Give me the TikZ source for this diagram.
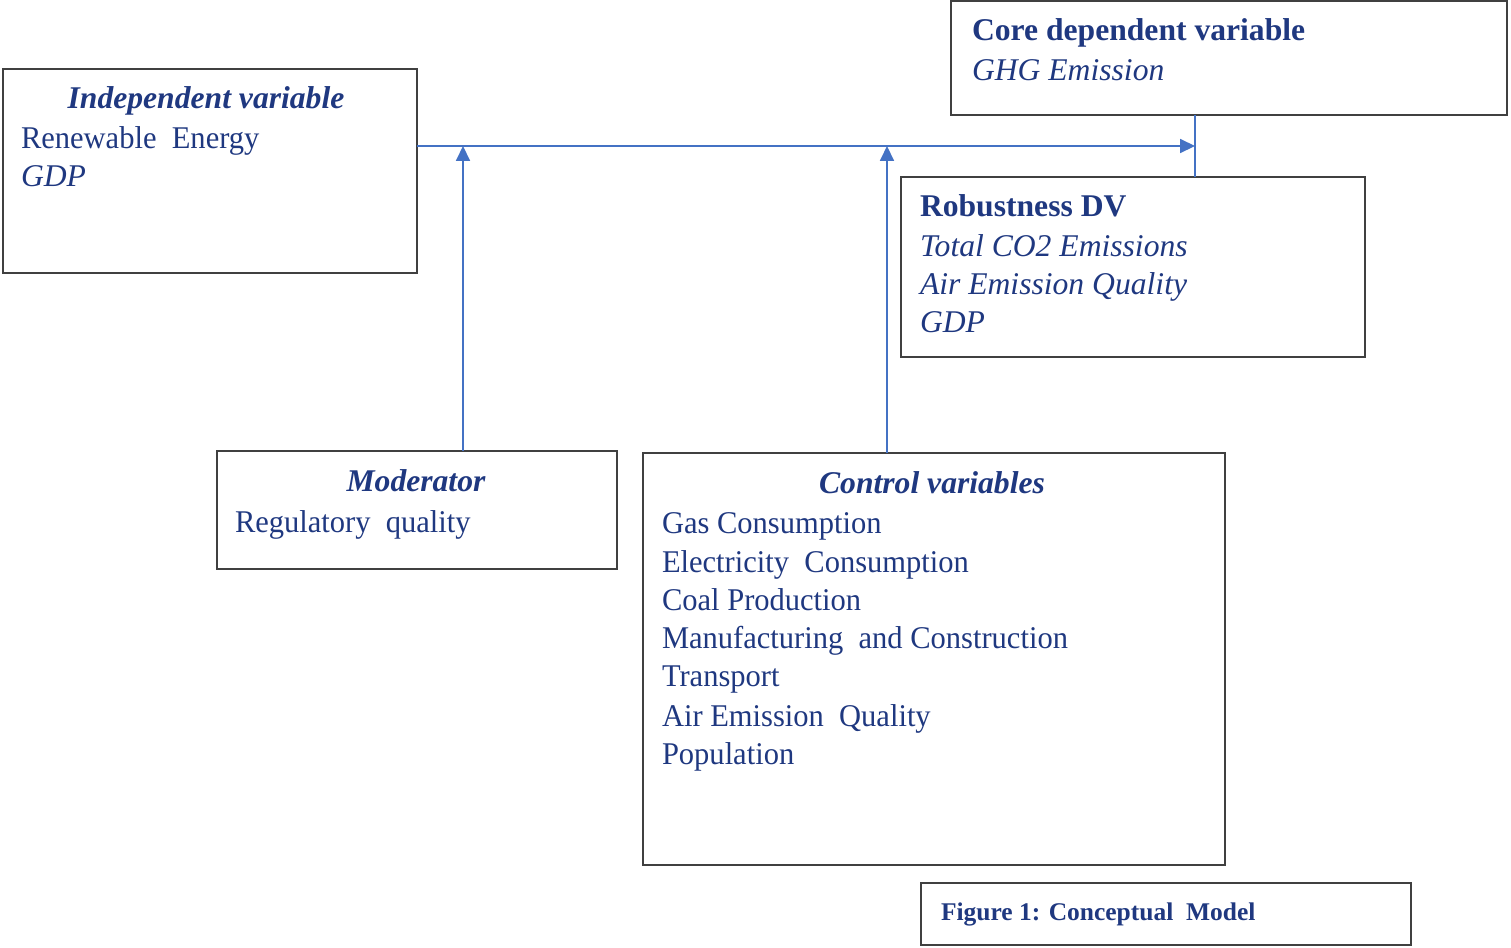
\documentclass[tikz,border=0pt]{standalone}
\usepackage{fontspec}
\usepackage{tikz}
\usetikzlibrary{arrows.meta}
\setmainfont{Liberation Serif}[UprightFeatures={FakeStretch=0.965}]
\definecolor{txtblue}{RGB}{31,56,128}
\definecolor{lineblue}{RGB}{68,114,196}
\definecolor{boxgrey}{RGB}{64,64,64}

\begin{document}
\begin{tikzpicture}[x=0.02cm, y=0.02cm]
\tikzstyle{every node}+=[inner sep=0pt, outer sep=0pt, text=txtblue, font=\fontsize{18}{21.6}\selectfont]
\tikzstyle{box}=[draw=boxgrey, line width=1.1pt, anchor=north west]
\tikzstyle{conn}=[draw=lineblue, line width=0.85pt]
\tikzstyle{tip}=[-{Triangle[length=8.5pt,width=8pt]}]
\useasboundingbox (0,0) rectangle (1511,-947);
\node (indep) [box, minimum width=8.28cm, minimum height=4.08cm] at (3,-69) {};
\node (core) [box, minimum width=11.12cm, minimum height=2.28cm] at (951,-1) {};
\node (robust) [box, minimum width=9.28cm, minimum height=3.6cm] at (901,-177) {};
\node (moder) [box, minimum width=8cm, minimum height=2.36cm] at (217,-451) {};
\node (control) [box, minimum width=11.64cm, minimum height=8.24cm] at (643,-453) {};
\node (caption) [box, minimum width=9.8cm, minimum height=1.24cm] at (921,-883) {};
\node (indep-t) [anchor=base] at (206,-108) {\bfseries\itshape Independent variable};
\node (indep-a) [anchor=base west] at (21,-148) {Renewable\ \ Energy};
\node (indep-b) [anchor=base west] at (21,-186) {\itshape GDP};
\node (core-t) [anchor=base west] at (972,-40) {\bfseries Core dependent variable};
\node (core-a) [anchor=base west] at (972,-80) {\itshape GHG Emission};
\node (robust-t) [anchor=base west] at (920,-216) {\bfseries Robustness DV};
\node (robust-a) [anchor=base west] at (920,-256) {\itshape Total CO2 Emissions};
\node (robust-b) [anchor=base west] at (920,-294) {\itshape Air Emission Quality};
\node (robust-c) [anchor=base west] at (920,-332) {\itshape GDP};
\node (moder-t) [anchor=base] at (416,-491) {\bfseries\itshape Moderator};
\node (moder-a) [anchor=base west] at (235,-532) {Regulatory\ \ quality};
\node (control-t) [anchor=base] at (932,-493) {\bfseries\itshape Control variables};
\node (control-a) [anchor=base west] at (662,-533) {Gas Consumption};
\node (control-b) [anchor=base west] at (662,-572) {Electricity\ \ Consumption};
\node (control-c) [anchor=base west] at (662,-610) {Coal Production};
\node (control-d) [anchor=base west] at (662,-648) {Manufacturing\ \ and Construction};
\node (control-e) [anchor=base west] at (662,-686) {Transport};
\node (control-f) [anchor=base west] at (662,-726) {Air Emission\ \ Quality};
\node (control-g) [anchor=base west] at (662,-764) {Population};
\node (caption-t) [anchor=base west, font=\fontsize{14.5}{17}\selectfont] at (941,-920) {\bfseries Figure 1: Conceptual\ \ Model};
\coordinate (hub) at (1195,-146);
\coordinate (mhub) at (463,-146);
\coordinate (chub) at (887,-146);
\draw [conn, tip] (indep.east |- hub) -- (hub);
\draw [conn] (core.south -| hub) -- (robust.north -| hub);
\draw [conn, tip] (moder.north -| mhub) -- (mhub);
\draw [conn, tip] (control.north -| chub) -- (chub);
\end{tikzpicture}
\end{document}
